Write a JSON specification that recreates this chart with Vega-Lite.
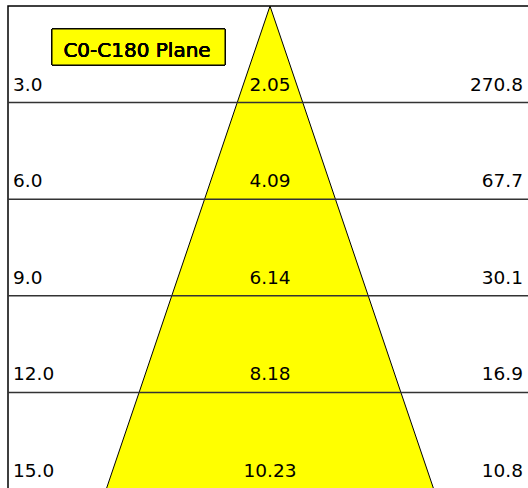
{
  "$schema": "https://vega.github.io/schema/vega-lite/v6.json",
  "width": 540,
  "height": 483,
  "autosize": {"type": "none"},
  "padding": {"left": 8, "top": 6, "right": 0, "bottom": 0},
  "background": "white",
  "config": {"view": {"stroke": "#000", "strokeWidth": 1.5}, "text": {"font": "DejaVu Sans", "fontWeight": "normal"}},
  "datasets": {
    "cone": [
      {"d": 0, "dia": 0},
      {"d": 3, "dia": 2.05},
      {"d": 6, "dia": 4.09},
      {"d": 9, "dia": 6.14},
      {"d": 12, "dia": 8.18},
      {"d": 15, "dia": 10.23}
    ],
    "rows": [
      {"d": 3, "dia": 2.05, "lux": 270.8},
      {"d": 6, "dia": 4.09, "lux": 67.7},
      {"d": 9, "dia": 6.14, "lux": 30.1},
      {"d": 12, "dia": 8.18, "lux": 16.9},
      {"d": 15, "dia": 10.23, "lux": 10.8}
    ]
  },
  "resolve": {"scale": {"x": "independent"}},
  "layer": [
    {
      "data": {"name": "cone"},
      "layer": [
        {
          "mark": {"type": "area", "orient": "horizontal", "fill": "#ffff00"},
          "encoding": {
            "y": {"field": "d", "type": "quantitative", "scale": {"domain": [0, 15], "reverse": true, "nice": false, "zero": false}, "axis": null},
            "x": {"field": "dia", "type": "quantitative", "scale": {"domain": [-16.375, 17.375], "nice": false, "zero": false}, "axis": null},
            "x2": {"datum": 0}
          }
        },
        {
          "mark": {"type": "line", "color": "#000", "strokeWidth": 1},
          "encoding": {
            "y": {"field": "d", "type": "quantitative", "scale": {"domain": [0, 15], "reverse": true, "nice": false, "zero": false}, "axis": null},
            "x": {"field": "dia", "type": "quantitative", "scale": {"domain": [-16.375, 17.375], "nice": false, "zero": false}, "axis": null}
          }
        }
      ]
    },
    {
      "data": {"name": "cone"},
      "layer": [
        {
          "mark": {"type": "area", "orient": "horizontal", "fill": "#ffff00"},
          "encoding": {
            "y": {"field": "d", "type": "quantitative", "scale": {"domain": [0, 15], "reverse": true, "nice": false, "zero": false}, "axis": null},
            "x": {"field": "dia", "type": "quantitative", "scale": {"domain": [-17.375, 16.375], "reverse": true, "nice": false, "zero": false}, "axis": null},
            "x2": {"datum": 0}
          }
        },
        {
          "mark": {"type": "line", "color": "#000", "strokeWidth": 1},
          "encoding": {
            "y": {"field": "d", "type": "quantitative", "scale": {"domain": [0, 15], "reverse": true, "nice": false, "zero": false}, "axis": null},
            "x": {"field": "dia", "type": "quantitative", "scale": {"domain": [-17.375, 16.375], "reverse": true, "nice": false, "zero": false}, "axis": null}
          }
        }
      ]
    },
    {
      "data": {"name": "rows"},
      "layer": [
        {
          "mark": {"type": "rule", "color": "#333", "strokeWidth": 1.5},
          "encoding": {
            "y": {"field": "d", "type": "quantitative", "scale": {"domain": [0, 15], "reverse": true, "nice": false, "zero": false}, "axis": null}
          }
        },
        {
          "mark": {"type": "text", "align": "left", "baseline": "alphabetic", "dy": -12, "font": "DejaVu Sans", "fontWeight": "normal", "fontSize": 18.5, "color": "#000"},
          "encoding": {
            "x": {"datum": -8.03, "type": "quantitative", "scale": {"domain": [-8.1875, 8.6875], "nice": false, "zero": false}, "axis": null},
            "y": {"field": "d", "type": "quantitative", "scale": {"domain": [0, 15], "reverse": true, "nice": false, "zero": false}, "axis": null},
            "text": {"field": "d", "type": "quantitative", "format": ".1f"}
          }
        },
        {
          "mark": {"type": "text", "align": "center", "baseline": "alphabetic", "dy": -12, "font": "DejaVu Sans", "fontWeight": "normal", "fontSize": 18.5, "color": "#000"},
          "encoding": {
            "x": {"datum": 0, "type": "quantitative", "scale": {"domain": [-8.1875, 8.6875], "nice": false, "zero": false}, "axis": null},
            "y": {"field": "d", "type": "quantitative", "scale": {"domain": [0, 15], "reverse": true, "nice": false, "zero": false}, "axis": null},
            "text": {"field": "dia", "type": "quantitative", "format": ".2f"}
          }
        },
        {
          "mark": {"type": "text", "align": "right", "baseline": "alphabetic", "dy": -12, "font": "DejaVu Sans", "fontWeight": "normal", "fontSize": 18.5, "color": "#000"},
          "encoding": {
            "x": {"datum": 7.906, "type": "quantitative", "scale": {"domain": [-8.1875, 8.6875], "nice": false, "zero": false}, "axis": null},
            "y": {"field": "d", "type": "quantitative", "scale": {"domain": [0, 15], "reverse": true, "nice": false, "zero": false}, "axis": null},
            "text": {"field": "lux", "type": "quantitative", "format": ".1f"}
          }
        },
        {
          "mark": {"type": "rect", "fill": "#ffff00", "stroke": "#000", "strokeWidth": 1},
          "encoding": {
            "x": {"datum": -6.8125, "type": "quantitative", "scale": {"domain": [-8.1875, 8.6875], "nice": false, "zero": false}, "axis": null},
            "x2": {"datum": -1.406},
            "y": {"datum": 0.714, "type": "quantitative", "scale": {"domain": [0, 15], "reverse": true, "nice": false, "zero": false}, "axis": null},
            "y2": {"datum": 1.832}
          }
        },
        {
          "mark": {"type": "text", "align": "center", "baseline": "alphabetic", "font": "DejaVu Sans", "fontWeight": "normal", "fontSize": 20, "color": "#000"},
          "encoding": {
            "x": {"datum": -4.156, "type": "quantitative", "scale": {"domain": [-8.1875, 8.6875], "nice": false, "zero": false}, "axis": null},
            "y": {"datum": 1.584, "type": "quantitative", "scale": {"domain": [0, 15], "reverse": true, "nice": false, "zero": false}, "axis": null},
            "text": {"value": "C0-C180 Plane"}
          }
        }
      ]
    }
  ]
}
